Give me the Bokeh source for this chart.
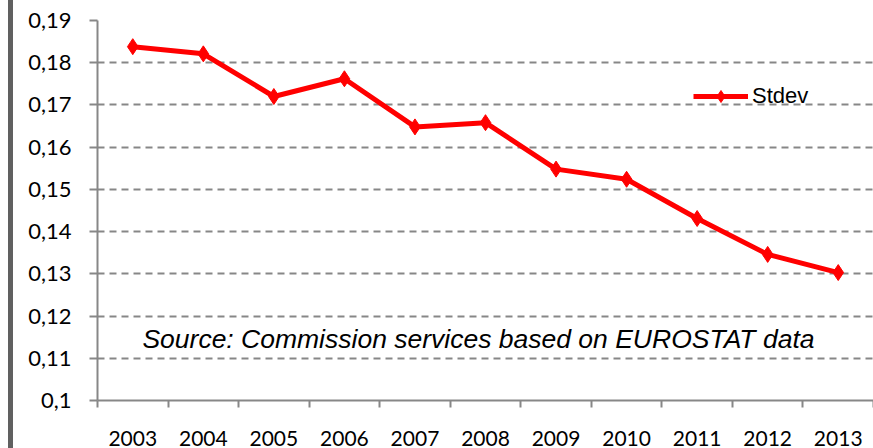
from bokeh.plotting import figure
from bokeh.models import (FixedTicker, CustomJSTickFormatter, Range1d, Legend,
                          LegendItem, Label)
from bokeh.embed import file_html
from bokeh.resources import INLINE

years = [2003, 2004, 2005, 2006, 2007, 2008, 2009, 2010, 2011, 2012, 2013]
stdev = [0.1838, 0.1821, 0.1720, 0.1762, 0.1648, 0.1658, 0.1548, 0.1524, 0.1431, 0.1346, 0.1303]
y_ticks = [0.10, 0.11, 0.12, 0.13, 0.14, 0.15, 0.16, 0.17, 0.18, 0.19]
series_name = "Stdev"
source_note = "Source: Commission services based on EUROSTAT data"

GRAY = "#878787"

p = figure(width=873, height=448, output_backend="svg", toolbar_location=None,
           x_range=Range1d(years[0] - 0.5, years[-1] + 0.5),
           y_range=Range1d(y_ticks[0], y_ticks[-1]),
           min_border_left=97, min_border_right=0, min_border_top=20,
           min_border_bottom=45)
p.outline_line_color = None
p.border_fill_color = None
p.background_fill_color = "#ffffff"
p.styles = {"background": "linear-gradient(to right, #ffffff 8px, #606060 8px, "
                          "#606060 13px, #ffffff 13px)"}

# axes
p.xaxis.ticker = FixedTicker(ticks=years,
                             minor_ticks=[y - 0.5 for y in years] + [years[-1] + 0.5])
p.xaxis.major_tick_out = 0
p.xaxis.major_tick_in = 0
p.xaxis.minor_tick_out = 7
p.xaxis.minor_tick_in = 0
p.xaxis.minor_tick_line_color = GRAY
p.xaxis.minor_tick_line_width = 2
p.xaxis.axis_line_color = GRAY
p.xaxis.axis_line_width = 2
p.xaxis.major_label_standoff = 23
p.xaxis.major_label_text_font = "Lato"
p.xaxis.major_label_text_font_size = "21px"
p.xaxis.major_label_text_color = "#000000"

p.yaxis.ticker = FixedTicker(ticks=y_ticks, minor_ticks=[])
p.yaxis.formatter = CustomJSTickFormatter(
    code="return tick.toFixed(2).replace(/0$/, '').replace('.', ',');")
p.yaxis.major_tick_out = 8
p.yaxis.major_tick_in = 0
p.yaxis.major_tick_line_color = GRAY
p.yaxis.major_tick_line_width = 2
p.yaxis.axis_line_color = GRAY
p.yaxis.axis_line_width = 2
p.yaxis.major_label_standoff = 18
p.yaxis.major_label_text_font = "Lato"
p.yaxis.major_label_text_font_size = "22px"
p.yaxis.major_label_text_color = "#000000"

p.xgrid.grid_line_color = None
p.ygrid.grid_line_color = GRAY
p.ygrid.grid_line_width = 2
p.ygrid.grid_line_dash = "7 5"

line = p.line(years, stdev, line_color="#FF0000", line_width=5)
pts = p.scatter(years, stdev, marker="diamond", size=16, fill_color="#FF0000",
                line_color="#FF0000")

legend = Legend(items=[LegendItem(label=series_name, renderers=[line, pts])],
                location=(596, 289), orientation="vertical",
                padding=0, margin=0, spacing=0,
                border_line_color=None, background_fill_alpha=0,
                glyph_width=55, glyph_height=30, label_height=22,
                label_standoff=4,
                label_text_font="Liberation Sans", label_text_font_size="22px",
                label_text_color="#000000")
p.add_layout(legend, "center")

note = Label(x=(years[0] + years[-1]) / 2 - 0.1, y=0.1146, text=source_note,
             text_align="center", text_baseline="middle",
             text_font="Liberation Sans", text_font_style="italic",
             text_font_size="26.5px", text_color="#000000")
p.add_layout(note)

open("out.html", "w").write(file_html(p, INLINE))
